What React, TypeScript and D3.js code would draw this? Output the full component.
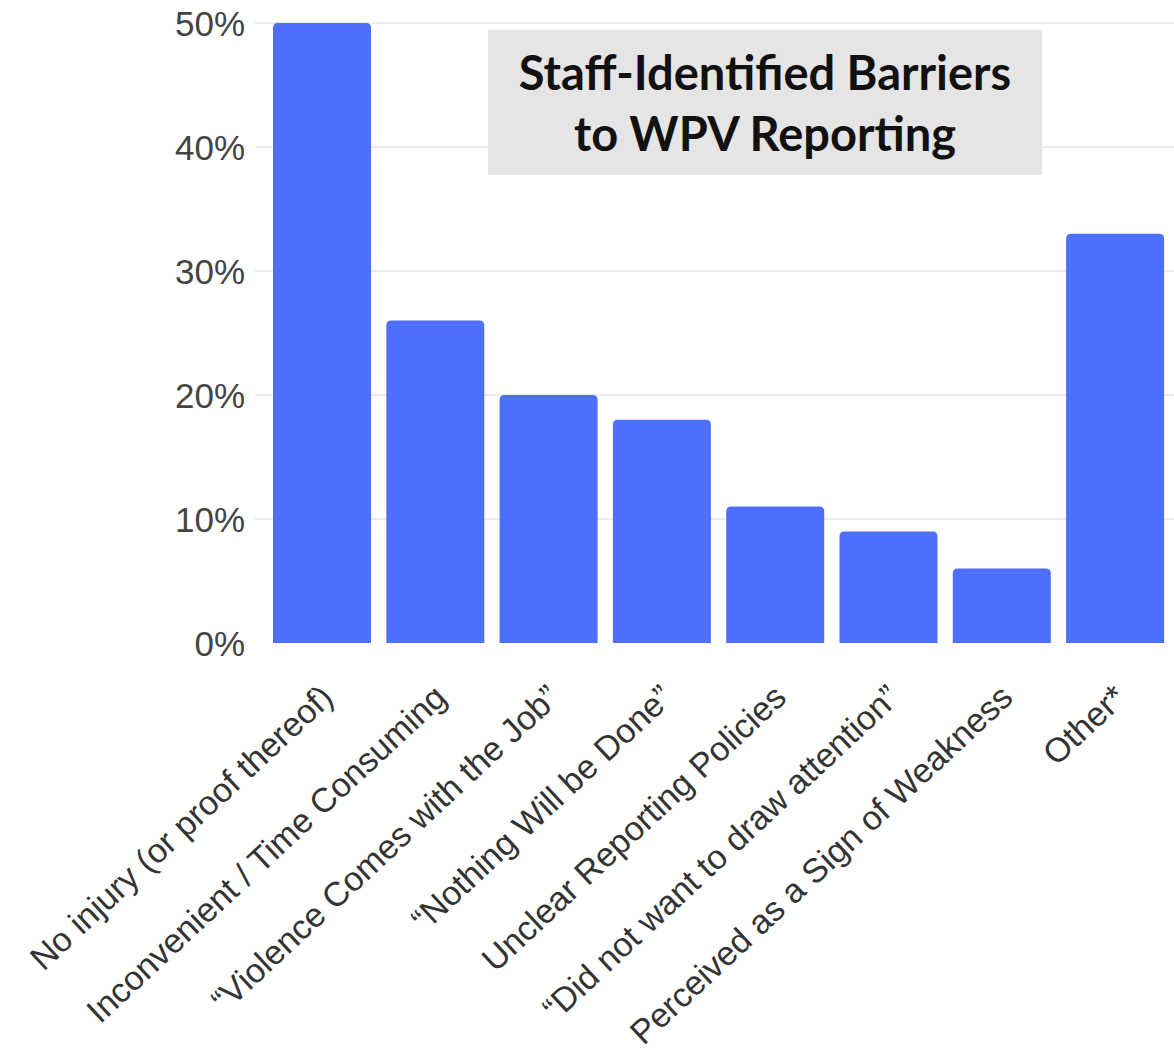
import React from "react";
import * as d3 from "d3";

const categories = [
  "No injury (or proof thereof)",
  "Inconvenient / Time Consuming",
  "\u201CViolence Comes with the Job\u201D",
  "\u201CNothing Will be Done\u201D",
  "Unclear Reporting Policies",
  "\u201CDid not want to draw attention\u201D",
  "Perceived as a Sign of Weakness",
  "Other*",
];
const values = [50, 26, 20, 18, 11, 9, 6, 33];
const yTicks = [0, 10, 20, 30, 40, 50];
const titleLines = ["Staff-Identified Barriers", "to WPV Reporting"];

const W = 1174;
const H = 1061;

export default function App() {
  const x = d3.scaleBand<string>().domain(categories).range([257.7, 1179.4]).padding(0.135);
  const y = d3.scaleLinear().domain([0, 50]).range([643, 23]);
  const r = 5;
  const barPath = (c: string, v: number) => {
    const x0 = x(c)!;
    const w = x.bandwidth();
    const y0 = y(v);
    const yb = y(0);
    const p = d3.path();
    p.moveTo(x0, yb);
    p.lineTo(x0, y0 + r);
    p.quadraticCurveTo(x0, y0, x0 + r, y0);
    p.lineTo(x0 + w - r, y0);
    p.quadraticCurveTo(x0 + w, y0, x0 + w, y0 + r);
    p.lineTo(x0 + w, yb);
    p.closePath();
    return p.toString();
  };
  return (
    <svg width={W} height={H} style={{ display: "block", position: "absolute", left: 0, top: 0, background: "#fff" }}>
      {yTicks.map((t) => (
        <g key={t}>
          {t > 0 && <line x1={255} x2={W} y1={y(t)} y2={y(t)} stroke="#ececec" strokeWidth={2} />}
          <text
            x={245}
            y={y(t)}
            textAnchor="end"
            dominantBaseline="central"
            fontFamily="'Liberation Sans', Arial, sans-serif"
            fontSize={35}
            fill="#444"
          >
            {t}%
          </text>
        </g>
      ))}
      <rect x={488} y={30} width={554} height={145} fill="#e6e5e5" />
      {titleLines.map((l, i) => (
        <text
          key={i}
          x={765}
          y={90 + i * 61}
          textAnchor="middle"
          fontFamily="Lato, 'Open Sans', sans-serif"
          fontWeight={700}
          fontSize={47}
          fill="#111"
        >
          {l}
        </text>
      ))}
      {categories.map((c, i) => (
        <path key={c} d={barPath(c, values[i])} fill="#4e6ffb" />
      ))}
      {categories.map((c) => {
        const cx = x(c)! + x.bandwidth() / 2 + 13;
        const cy = 700;
        return (
          <text
            key={c}
            x={cx}
            y={cy}
            transform={`rotate(-43 ${cx} ${cy})`}
            textAnchor="end"
            fontFamily="'Liberation Sans', Arial, sans-serif"
            fontSize={34}
            fill="#333"
          >
            {c}
          </text>
        );
      })}
    </svg>
  );
}
